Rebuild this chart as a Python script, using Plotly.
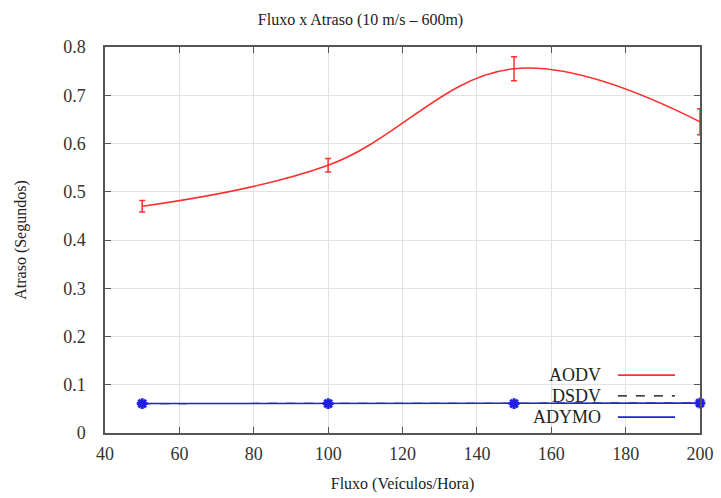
import plotly.graph_objects as go

fluxo = [50, 100, 150, 200]
aodv = [0.470, 0.555, 0.755, 0.645]
aodv_err = [0.012, 0.014, 0.025, 0.027]
dsdv = [0.061, 0.061, 0.061, 0.062]
adymo = [0.061, 0.061, 0.061, 0.062]
legend_names = ["AODV", "DSDV", "ADYMO"]

FONT = "Liberation Serif, Times New Roman, serif"

fig = go.Figure()
fig.add_trace(go.Scatter(x=fluxo, y=aodv, mode="lines", line=dict(color="#ff3030", width=1.6, shape="spline", smoothing=1.1),
                         showlegend=False, hoverinfo="skip"))
fig.add_trace(go.Scatter(x=fluxo, y=aodv, mode="markers", marker=dict(size=1, color="#ff3030"), cliponaxis=False,
                         error_y=dict(type="data", array=aodv_err, color="#ff3030", thickness=1.5, width=3),
                         name="AODV", showlegend=False))
fig.add_trace(go.Scatter(x=fluxo, y=dsdv, mode="lines", line=dict(color="black", width=1.2, dash="dash"),
                         name="DSDV", showlegend=False))
fig.add_trace(go.Scatter(x=fluxo, y=adymo, mode="lines+markers", line=dict(color="#2020e0", width=1.6), cliponaxis=False,
                         marker=dict(symbol="asterisk-open", size=9, color="#2020e0", line=dict(width=3, color="#2020e0")),
                         name="ADYMO", showlegend=False))

# custom legend (text to the left of sample line, gnuplot style)
leg_styles = [dict(color="#ff3030", width=1.6), dict(color="black", width=1.2, dash="dash"), dict(color="#2020e0", width=1.6)]
leg_y = [0.150, 0.096, 0.041]
for name, st, yy in zip(legend_names, leg_styles, leg_y):
    fig.add_annotation(x=0.837, y=yy, xref="paper", yref="paper", text=name, showarrow=False,
                       xanchor="right", yanchor="middle", font=dict(family=FONT, size=18, color="#222"))
    fig.add_shape(type="line", xref="paper", yref="paper", x0=0.862, x1=0.958, y0=yy, y1=yy, line=st)

fig.update_layout(
    width=721, height=498,
    margin=dict(l=105, r=21, t=47, b=65, autoexpand=False),
    paper_bgcolor="white", plot_bgcolor="white",
    font=dict(family=FONT, size=18, color="#333"),
    title=dict(text="Fluxo x Atraso (10 m/s – 600m)", x=0.5, xanchor="center", y=0.962, yanchor="middle",
               font=dict(family=FONT, size=16, color="#222")),
)
fig.update_xaxes(range=[40, 200], dtick=20, tick0=40, showline=True, linecolor="#555", linewidth=1.5, mirror="ticks",
                 ticks="inside", ticklen=6, tickcolor="#555", showgrid=True, gridcolor="#e2e2e2",
                 zeroline=False, ticklabelstandoff=4, automargin=False,
                 title=dict(text="Fluxo (Veículos/Hora)", font=dict(size=16, color="#222"), standoff=14))
fig.update_yaxes(range=[0, 0.8], dtick=0.1, tick0=0, showline=True, linecolor="#555", linewidth=1.5, mirror="ticks",
                 ticks="inside", ticklen=6, tickcolor="#555", showgrid=True, gridcolor="#e2e2e2",
                 zeroline=False, ticklabelstandoff=14, automargin=False,
                 title=dict(text="Atraso (Segundos)", font=dict(size=16, color="#222"), standoff=33))

fig.write_html("out.html")
